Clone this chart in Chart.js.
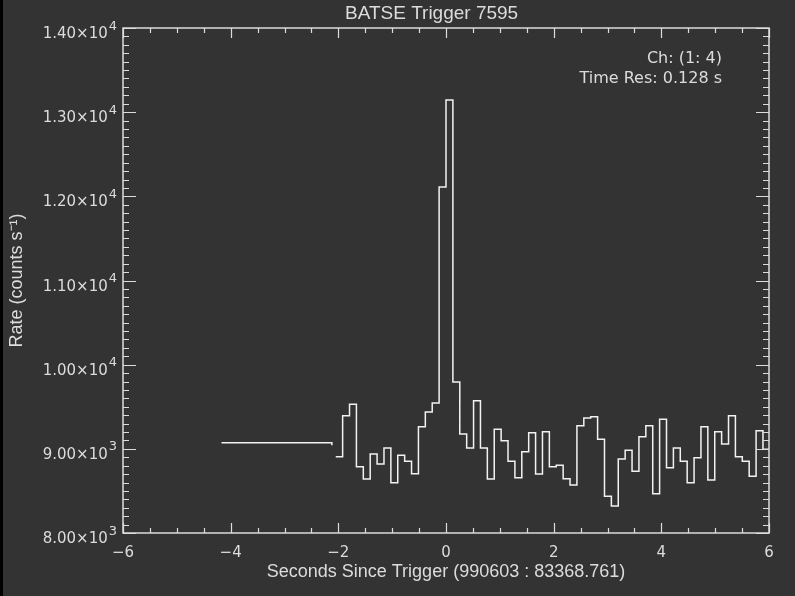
<!DOCTYPE html>
<html>
<head>
<meta charset="utf-8">
<script src="https://cdn.jsdelivr.net/npm/chart.js@4.4.0/dist/chart.umd.min.js"></script>
<style>
  html, body { margin: 0; padding: 0; background: #333333; }
</style>
</head>
<body>
<canvas id="batse" width="795" height="596"></canvas>
<script>
const titleText = 'BATSE Trigger 7595';
const xLabel = 'Seconds Since Trigger (990603 : 83368.761)';
const yLabel = 'Rate (counts s\u207B\u00B9)';
const infoLines = ['Ch: (1: 4)', 'Time Res: 0.128 s'];

// pre-trigger segment (coarse)
const preTimes = [-4.17, -2.12];
const preRates = [9073, 9042];

// 0.128 s bins, starting at -2.048 s
const binStart = -2.048;
const binWidth = 0.128;
const rates = [
  8906, 9394, 9529, 8788, 8642, 8939, 8820, 9010, 8598, 8923,
  8852, 8705, 9263, 9438, 9545, 12111, 13144, 9794, 9176, 9010,
  9572, 9010, 8642, 9232, 9097, 8852, 8657, 8966, 9192, 8701,
  9204, 8788, 8804, 8645, 8570, 9275, 9366, 9382, 9113, 8436,
  8321, 8879, 8983, 8733, 9144, 9275, 8467, 9351, 8776, 9010,
  8852, 8598, 8895, 9263, 8630, 9204, 9057, 9394, 8906, 8852,
  8674, 9215, 8994
];

const xTickValues = [-6, -4, -2, 0, 2, 4, 6];
const yTickValues = [8000, 9000, 10000, 11000, 12000, 13000, 14000];

const bg = '#333333';
const fg = '#dcdcdc';
const lineColor = '#f2f2f2';

const mainPoints = rates.map((r, i) => ({x: binStart + i * binWidth, y: r}));
mainPoints.push({x: binStart + rates.length * binWidth, y: rates[rates.length - 1]});
const prePoints = preTimes.map((t, i) => ({x: t, y: preRates[i]}));

function sciParts(v) {
  const e = Math.floor(Math.log10(v));
  return [(v / Math.pow(10, e)).toFixed(2) + '\u00D710', String(e)];
}

const framePlugin = {
  id: 'frame',
  beforeDraw(chart) {
    const ctx = chart.ctx;
    ctx.save();
    ctx.fillStyle = bg;
    ctx.fillRect(0, 0, chart.width, chart.height);
    ctx.fillStyle = '#000000';
    ctx.fillRect(0, 0, 3, chart.height);
    ctx.restore();
  },
  afterDraw(chart) {
    const ctx = chart.ctx;
    const {left, right, top, bottom} = chart.chartArea;
    const xs = chart.scales.x, ys = chart.scales.y;
    ctx.save();
    ctx.strokeStyle = fg;
    ctx.lineWidth = 1.5;
    ctx.strokeRect(left, top, right - left, bottom - top);
    ctx.lineWidth = 1.2;
    ctx.beginPath();
    for (let k = -12; k <= 12; k++) {
      const px = Math.round(xs.getPixelForValue(k / 2)) + 0.5;
      const len = k % 4 === 0 ? 10 : 5;
      ctx.moveTo(px, bottom); ctx.lineTo(px, bottom - len);
      ctx.moveTo(px, top); ctx.lineTo(px, top + len);
    }
    for (let k = 80; k <= 140; k++) {
      const py = Math.round(ys.getPixelForValue(k * 100)) + 0.5;
      const len = k % 10 === 0 ? 13 : 6;
      ctx.moveTo(left, py); ctx.lineTo(left + len, py);
      ctx.moveTo(right, py); ctx.lineTo(right - len, py);
    }
    ctx.stroke();

    // y tick labels with raised exponent
    ctx.fillStyle = fg;
    ctx.textBaseline = 'alphabetic';
    ctx.textAlign = 'right';
    yTickValues.forEach(v => {
      const py = ys.getPixelForValue(v);
      const [mant, exp] = sciParts(v);
      ctx.font = '13px "DejaVu Sans"';
      const ew = ctx.measureText(exp).width;
      ctx.fillText(exp, 117, py + 1.5);
      ctx.font = '15px "DejaVu Sans"';
      ctx.fillText(mant, 117 - ew - 1, py + 10);
    });

    ctx.font = '19px "Liberation Sans"';
    ctx.textAlign = 'left';
    ctx.fillText(titleText, 345, 19);

    ctx.font = '16px "DejaVu Sans"';
    ctx.textAlign = 'right';
    ctx.fillText(infoLines[0], 722, 63);
    ctx.fillText(infoLines[1], 722, 83);
    ctx.restore();
  }
};

new Chart(document.getElementById('batse'), {
  type: 'line',
  data: {
    datasets: [{
      data: mainPoints,
      stepped: 'before',
      borderColor: lineColor,
      borderWidth: 1.5,
      pointRadius: 0,
      fill: false
    }, {
      data: prePoints,
      stepped: 'before',
      borderColor: lineColor,
      borderWidth: 1.5,
      pointRadius: 0,
      fill: false
    }]
  },
  options: {
    responsive: false,
    animation: false,
    devicePixelRatio: 1,
    layout: { padding: { left: 0, right: 26, top: 28, bottom: 0 } },
    plugins: {
      legend: { display: false },
      tooltip: { enabled: false }
    },
    scales: {
      x: {
        type: 'linear',
        min: -6,
        max: 6,
        afterFit: s => { s.height = 63; },
        afterBuildTicks: s => { s.ticks = xTickValues.map(v => ({value: v})); },
        grid: { display: false, drawTicks: false },
        border: { display: false },
        ticks: {
          color: fg,
          font: { family: 'DejaVu Sans', size: 15 },
          padding: 11,
          maxRotation: 0,
          autoSkip: false,
          callback: v => v < 0 ? '\u2212' + Math.abs(v) : String(v)
        },
        title: {
          display: true,
          text: xLabel,
          color: fg,
          font: { family: 'Liberation Sans', size: 18 },
          padding: { top: 0, bottom: 13 }
        }
      },
      y: {
        type: 'linear',
        min: 8000,
        max: 14000,
        afterFit: s => { s.width = 123; },
        afterBuildTicks: s => { s.ticks = yTickValues.map(v => ({value: v})); },
        grid: { display: false, drawTicks: false },
        border: { display: false },
        ticks: { display: false },
        title: {
          display: true,
          text: yLabel,
          color: fg,
          font: { family: 'Liberation Sans', size: 18 },
          padding: { top: 6, bottom: 0 }
        }
      }
    }
  },
  plugins: [framePlugin]
});
</script>
</body>
</html>
